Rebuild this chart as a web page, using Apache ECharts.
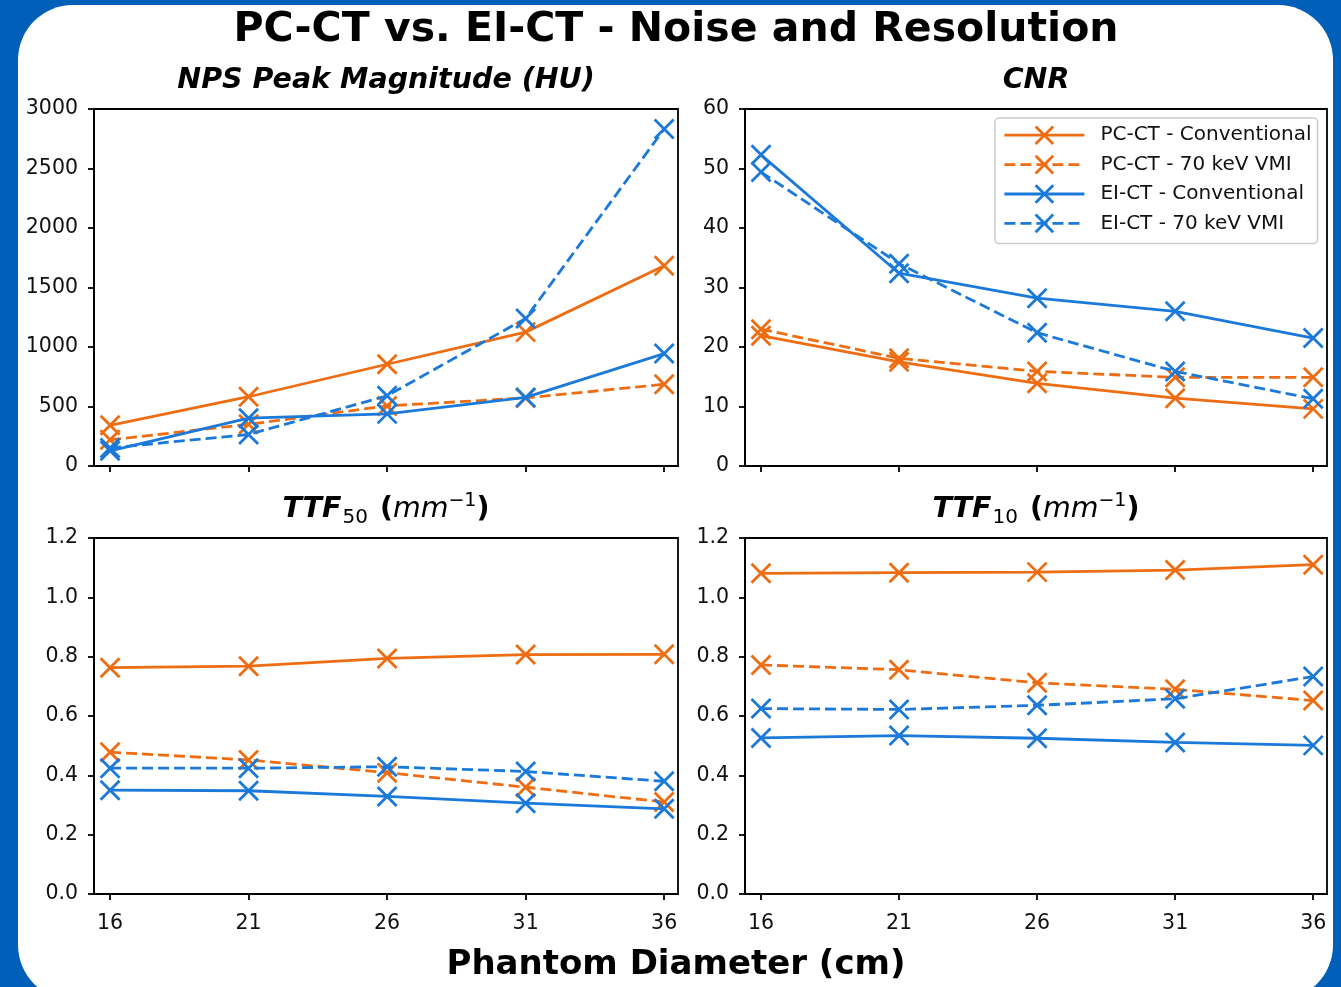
<!DOCTYPE html>
<html>
<head>
<meta charset="utf-8">
<title>PC-CT vs. EI-CT - Noise and Resolution</title>
<script src="https://cdn.jsdelivr.net/npm/echarts@6/dist/echarts.min.js"></script>
<style>
  html, body { margin: 0; padding: 0; background: #005fb8; }
  #chart { width: 1341px; height: 987px; }
</style>
</head>
<body>
<div id="chart"></div>
<script>
// phantom diameters (cm) and the legend names
const diameters = [16, 21, 26, 31, 36];
const xTicks = [16, 21, 26, 31, 36];
const seriesNames = ['PC-CT - Conventional', 'PC-CT - 70 keV VMI', 'EI-CT - Conventional', 'EI-CT - 70 keV VMI'];

// NPS peak magnitude (HU)
const npsPcConv = [342, 582, 855, 1125, 1683];
const npsPcVmi = [220, 350, 505, 572, 687];
const npsEiConv = [128, 402, 438, 576, 945];
const npsEiVmi = [152, 265, 590, 1240, 2832];

// CNR
const cnrPcConv = [21.9, 17.5, 13.9, 11.4, 9.6];
const cnrPcVmi = [23.0, 18.1, 15.9, 14.9, 14.9];
const cnrEiConv = [52.3, 32.4, 28.2, 26.0, 21.5];
const cnrEiVmi = [49.4, 34.0, 22.4, 15.9, 11.3];

// TTF50 (mm^-1)
const ttf50PcConv = [0.763, 0.768, 0.794, 0.807, 0.808];
const ttf50PcVmi = [0.478, 0.452, 0.409, 0.360, 0.310];
const ttf50EiConv = [0.350, 0.348, 0.329, 0.306, 0.287];
const ttf50EiVmi = [0.424, 0.424, 0.429, 0.413, 0.380];

// TTF10 (mm^-1)
const ttf10PcConv = [1.081, 1.083, 1.085, 1.092, 1.110];
const ttf10PcVmi = [0.772, 0.756, 0.712, 0.690, 0.652];
const ttf10EiConv = [0.526, 0.534, 0.525, 0.511, 0.501];
const ttf10EiVmi = [0.625, 0.622, 0.636, 0.658, 0.733];

const ORANGE = '#ee6d12';
const BLUE = '#1b79d9';
const FONT = 'DejaVu Sans';
const LW = 2.8;
const xMarker = 'path://M0,0L10,10M10,0L0,10';

const chart = echarts.init(document.getElementById('chart'), null, { renderer: 'canvas' });

const grids = [
  { left: 94, top: 109, width: 584, height: 357 },
  { left: 745, top: 109, width: 582, height: 357 },
  { left: 94, top: 538, width: 584, height: 356 },
  { left: 745, top: 538, width: 582, height: 356 },
];

const yRanges = [
  { max: 3000, interval: 500, fmt: v => String(v) },
  { max: 60, interval: 10, fmt: v => String(v) },
  { max: 1.2, interval: 0.2, fmt: v => v.toFixed(1) },
  { max: 1.2, interval: 0.2, fmt: v => v.toFixed(1) },
];

const panels = [
  [npsPcConv, npsPcVmi, npsEiConv, npsEiVmi],
  [cnrPcConv, cnrPcVmi, cnrEiConv, cnrEiVmi],
  [ttf50PcConv, ttf50PcVmi, ttf50EiConv, ttf50EiVmi],
  [ttf10PcConv, ttf10PcVmi, ttf10EiConv, ttf10EiVmi],
];

const DASH = [11, 5];
const styles = [
  { color: ORANGE, type: 'solid' },
  { color: ORANGE, type: DASH },
  { color: BLUE, type: 'solid' },
  { color: BLUE, type: DASH },
];

const axisLine = { show: true, onZero: false, lineStyle: { color: '#000', width: 1.8 } };
const axisTick = { show: true, length: 6, lineStyle: { color: '#000', width: 1.8 } };

const xAxes = grids.map((g, i) => ({
  type: 'value',
  gridIndex: i,
  min: 15.42,
  max: 36.5,
  splitLine: { show: false },
  axisLine,
  axisTick: Object.assign({ customValues: xTicks }, axisTick),
  axisLabel: {
    show: i >= 2,
    customValues: xTicks,
    margin: 19,
    fontFamily: FONT,
    fontSize: 20.5,
    color: '#111',
  },
}));

const yAxes = grids.map((g, i) => ({
  type: 'value',
  gridIndex: i,
  min: 0,
  max: yRanges[i].max,
  interval: yRanges[i].interval,
  splitLine: { show: false },
  axisLine,
  axisTick,
  axisLabel: {
    margin: 16,
    fontFamily: FONT,
    fontSize: 20.5,
    color: '#111',
    formatter: yRanges[i].fmt,
  },
}));

const series = [];
panels.forEach((sets, gi) => {
  sets.forEach((vals, si) => {
    series.push({
      name: seriesNames[si],
      type: 'line',
      xAxisIndex: gi,
      yAxisIndex: gi,
      data: diameters.map((d, k) => [d, vals[k]]),
      symbol: xMarker,
      symbolSize: 19,
      showAllSymbol: true,
      color: styles[si].color,
      lineStyle: { color: styles[si].color, width: LW, type: styles[si].type },
      itemStyle: { color: styles[si].color, borderColor: styles[si].color, borderWidth: LW },
      emphasis: { disabled: true },
      z: 2 + si,
    });
  });
});

const subTitle = (text, x, y, rich) => ({
  text,
  left: x,
  top: y,
  padding: 0,
  textAlign: 'center',
  textVerticalAlign: 'middle',
  textStyle: Object.assign(
    { fontFamily: FONT, fontSize: 28.5, fontWeight: 'bold', fontStyle: 'italic', color: '#000' },
    rich ? { rich } : {}
  ),
});

const ttfRich = {
  b: { fontFamily: FONT, fontSize: 28.5, fontWeight: 'bold', fontStyle: 'italic', color: '#000', lineHeight: 36 },
  sub: { fontFamily: FONT, fontSize: 20, fontWeight: 'normal', fontStyle: 'normal', color: '#000', lineHeight: 20, verticalAlign: 'bottom', padding: [0, 2, 0, 1] },
  p: { fontFamily: FONT, fontSize: 28.5, fontWeight: 'bold', fontStyle: 'normal', color: '#000', lineHeight: 36 },
  it: { fontFamily: FONT, fontSize: 28.5, fontWeight: 'normal', fontStyle: 'italic', color: '#000', lineHeight: 36 },
  sup: { fontFamily: FONT, fontSize: 19, fontWeight: 'normal', fontStyle: 'normal', color: '#000', lineHeight: 22, verticalAlign: 'top' },
};

const option = {
  animation: false,
  backgroundColor: '#005fb8',
  graphic: [
    {
      type: 'rect',
      silent: true,
      z: -10,
      shape: { x: 18, y: 5, width: 1315, height: 995, r: 55 },
      style: { fill: '#ffffff' },
    },
  ],
  title: [
    {
      text: 'PC-CT vs. EI-CT - Noise and Resolution',
      left: 676, top: 30, padding: 0,
      textAlign: 'center', textVerticalAlign: 'middle',
      textStyle: { fontFamily: FONT, fontSize: 41, fontWeight: 'bold', color: '#000' },
    },
    subTitle('NPS Peak Magnitude (HU)', 386, 81),
    subTitle('CNR', 1036, 81),
    subTitle('{b|TTF}{sub|50}{p| (}{it|mm}{sup|\u22121}{p|)}', 386, 510, ttfRich),
    subTitle('{b|TTF}{sub|10}{p| (}{it|mm}{sup|\u22121}{p|)}', 1036, 510, ttfRich),
    {
      text: 'Phantom Diameter (cm)',
      left: 676, top: 965, padding: 0,
      textAlign: 'center', textVerticalAlign: 'middle',
      textStyle: { fontFamily: FONT, fontSize: 34, fontWeight: 'bold', color: '#000' },
    },
  ],
  legend: {
    data: seriesNames,
    orient: 'vertical',
    left: 995,
    top: 118,
    padding: [7, 6, 10, 8],
    itemWidth: 80,
    itemHeight: 22,
    itemGap: 9,
    backgroundColor: 'rgba(255,255,255,0.85)',
    borderColor: '#cccccc',
    borderWidth: 1.5,
    borderRadius: 4,
    selectedMode: false,
    lineStyle: { width: LW },
    itemStyle: { borderWidth: LW },
    textStyle: { fontFamily: FONT, fontSize: 20, color: '#111', padding: [0, 0, 0, 11] },
  },
  grid: grids.map(g => Object.assign({ show: true, borderColor: '#000', borderWidth: 1.8, backgroundColor: 'transparent' }, g)),
  xAxis: xAxes,
  yAxis: yAxes,
  series,
};

chart.setOption(option);
</script>
</body>
</html>
